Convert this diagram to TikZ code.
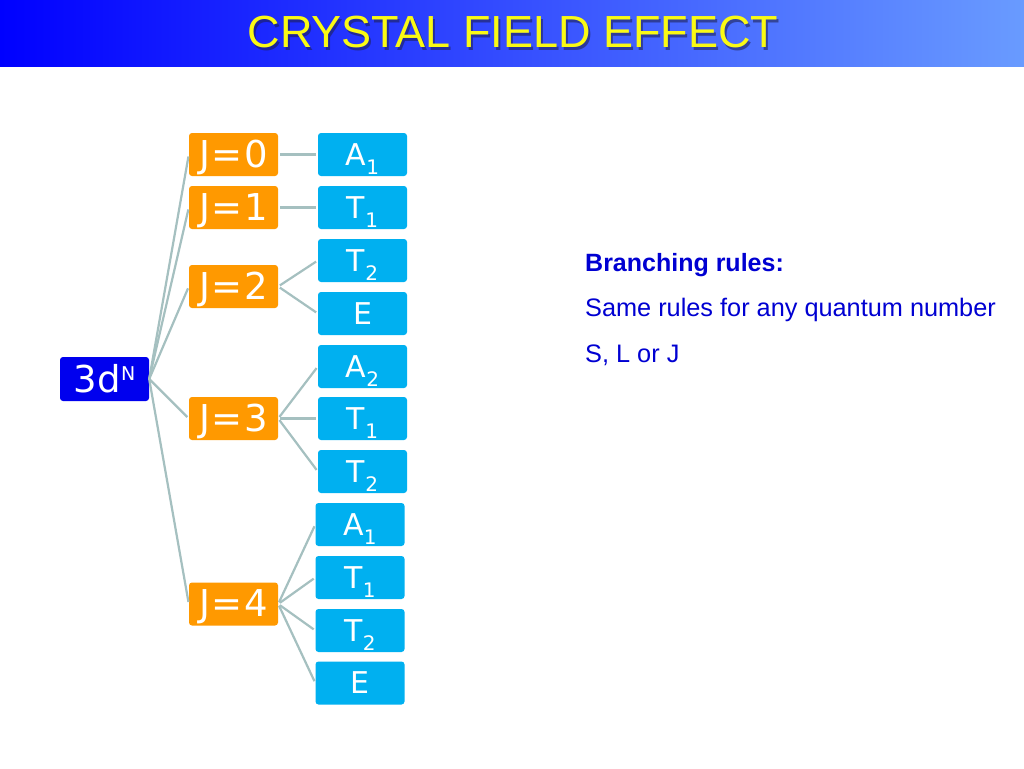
\documentclass[tikz,border=0pt]{standalone}
\usepackage{fontspec}
\setmainfont{Liberation Sans}
\newfontfamily\boxfont{DejaVu Sans}[LetterSpace=4]
\newfontfamily\rootfont{DejaVu Sans}[LetterSpace=1]
\definecolor{barL}{RGB}{0,0,255}
\definecolor{barR}{RGB}{105,155,255}
\definecolor{titleY}{RGB}{250,250,20}
\definecolor{shadowC}{RGB}{30,30,70}
\definecolor{rootC}{RGB}{0,0,238}
\definecolor{orangeC}{RGB}{255,153,0}
\definecolor{cyanC}{RGB}{0,176,240}
\definecolor{connC}{RGB}{165,192,192}
\definecolor{textB}{RGB}{0,0,210}
\newcommand\lsub[1]{\raisebox{-9pt}{\fontsize{20}{20}\selectfont#1}}
\newcommand\usup[1]{\raisebox{12pt}{\fontsize{19}{19}\selectfont#1}}
\tikzset{
  basebox/.style={rounded corners=3pt, minimum width=89pt, inner sep=0pt, text=white},
  rootbox/.style={basebox, fill=rootC, minimum height=44pt, font=\rootfont\fontsize{37}{40}\selectfont, text height=27pt, text depth=1pt},
  jbox/.style={basebox, fill=orangeC, minimum height=43pt, font=\boxfont\fontsize{37}{40}\selectfont, text height=27pt, text depth=2pt},
  sbox/.style={basebox, fill=cyanC, minimum height=43pt, font=\boxfont\fontsize{30}{32}\selectfont, text height=24pt, text depth=3pt},
  conn/.style={draw=connC, line width=2.2pt},
  rtext/.style={anchor=base west, text=textB, font=\fontsize{25.3}{28}\selectfont, inner sep=0pt}
}
\begin{document}
\begin{tikzpicture}[x=1pt,y=-1pt]
\useasboundingbox (0,0) rectangle (1024,768);
\fill[white] (0,0) rectangle (1024,768);
\shade[left color=barL, right color=barR] (0,0) rectangle (1024,66);
\node[anchor=base, text=shadowC, opacity=0.55, font=\fontsize{45}{48}\selectfont, inner sep=0pt] (titleS) at (515,50) {CRYSTAL FIELD EFFECT};
\node[anchor=base, text=titleY, font=\fontsize{45}{48}\selectfont, inner sep=0pt] (title) at (513,48) {CRYSTAL FIELD EFFECT};

\node[rootbox] (d) at (104.5,379) {3d\usup{N}};

\node[jbox] (j0) at (233.5,154.5) {J=0};
\node[jbox] (j1) at (233.5,207.5) {J=1};
\node[jbox] (j2) at (233.5,286.5) {J=2};
\node[jbox] (j3) at (233.5,418.5) {J=3};
\node[jbox] (j4) at (233.5,604) {J=4};

\node[sbox] (a1) at (362.5,154.5) {A\lsub{1}};
\node[sbox] (t1) at (362.5,207.5) {T\lsub{1}};
\node[sbox] (t2) at (362.5,260.5) {T\lsub{2}};
\node[sbox] (e2) at (362.5,313.5) {E};
\node[sbox] (a2) at (362.5,366.5) {A\lsub{2}};
\node[sbox] (t13) at (362.5,418.5) {T\lsub{1}};
\node[sbox] (t23) at (362.5,471.5) {T\lsub{2}};
\node[sbox] (a14) at (360,524.5) {A\lsub{1}};
\node[sbox] (t14) at (360,577.5) {T\lsub{1}};
\node[sbox] (t24) at (360,630.5) {T\lsub{2}};
\node[sbox] (e4) at (360,683) {E};

\foreach \j in {j0,j1,j2,j3,j4}
  \draw[conn, shorten >=2pt] (d.east) -- (\j.west);
\draw[conn, shorten <=2pt, shorten >=2pt] (j0.east) -- (a1.west);
\draw[conn, shorten <=2pt, shorten >=2pt] (j1.east) -- (t1.west);
\foreach \c in {t2,e2}
  \draw[conn, shorten <=2pt, shorten >=2pt] (j2.east) -- (\c.west);
\foreach \c in {a2,t13,t23}
  \draw[conn, shorten <=2pt, shorten >=2pt] (j3.east) -- (\c.west);
\foreach \c in {a14,t14,t24,e4}
  \draw[conn, shorten <=2pt, shorten >=2pt] (j4.east) -- (\c.west);

\node[rtext, font=\bfseries\fontsize{25}{28}\selectfont] (r1) at (585,271) {Branching rules:};
\node[rtext] (r2) at (585,316) {Same rules for any quantum number};
\node[rtext] (r3) at (585,362) {S, L or J};
\end{tikzpicture}
\end{document}
